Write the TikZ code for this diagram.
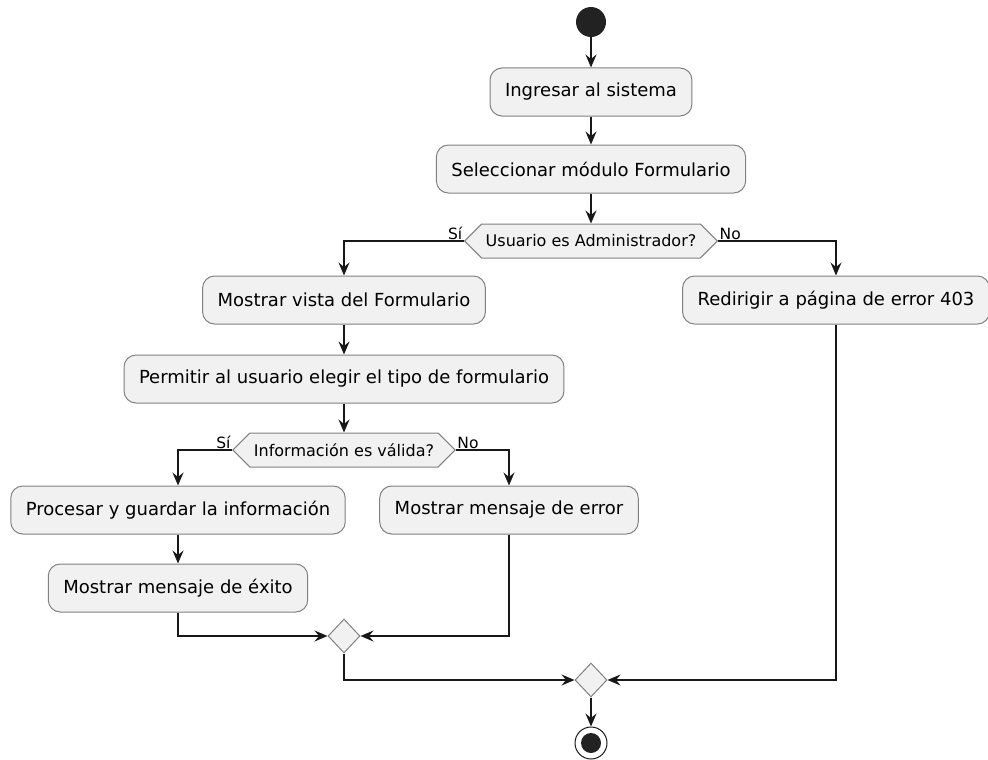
\documentclass[tikz,border=0pt]{standalone}
\usepackage{fontspec}
\setmainfont{DejaVu Sans}
\usetikzlibrary{shapes.geometric,shapes.symbols,arrows.meta}
\definecolor{boxfill}{HTML}{F1F1F1}
\definecolor{ink}{HTML}{181818}
\definecolor{dot}{HTML}{222222}
\tikzset{
  act/.style={draw=black!50, line width=1pt, fill=boxfill, rounded corners=12pt,
    inner xsep=15pt, minimum height=48pt, font=\fontsize{18}{20}\selectfont},
  dec/.style={draw=black!50, line width=1pt, fill=boxfill, signal, signal to=west and east,
    signal pointer angle=90, inner xsep=4pt, minimum height=34pt, font=\fontsize{16}{18}\selectfont},
  merge/.style={draw=black!50, line width=1pt, fill=boxfill, diamond, inner sep=0pt,
    minimum width=32pt, minimum height=34pt},
  arr/.style={draw=ink, line width=1.4pt, -{Stealth[length=13pt,width=11pt,inset=4.5pt]}},
  lbl/.style={font=\fontsize{15.5}{17}\selectfont, inner sep=1.5pt}
}
\begin{document}
\begin{tikzpicture}[x=1pt,y=-1pt]
\useasboundingbox (0,0) rectangle (988,760);
\node[circle, fill=dot, minimum size=30pt, inner sep=0pt] (start) at (591,22) {};
\node[act] (ing) at (591,92) {Ingresar al sistema};
\node[act] (sel) at (591,169) {Seleccionar módulo Formulario};
\node[dec] (d1) at (591,241) {Usuario es Administrador?};
\node[act] (vista) at (344,300) {Mostrar vista del Formulario};
\node[act] (redir) at (836,300) {Redirigir a página de error 403};
\node[act] (perm) at (344,379) {Permitir al usuario elegir el tipo de formulario};
\node[dec] (d2) at (344,450) {Información es válida?};
\node[act] (proc) at (178,510) {Procesar y guardar la información};
\node[act] (err) at (509,510) {Mostrar mensaje de error};
\node[act] (exito) at (178,588) {Mostrar mensaje de éxito};
\node[merge] (m1) at (344,636) {};
\node[merge] (m2) at (591,680) {};
\node[circle, draw=ink, line width=1pt, fill=white, minimum size=32pt, inner sep=0pt] (end) at (591,743) {};
\node[circle, fill=dot, minimum size=20pt, inner sep=0pt] (endin) at (end.center) {};

\node[lbl, anchor=south east] (l1) at (d1.west) {Sí};
\node[lbl, anchor=south west] (l2) at (d1.east) {No};
\node[lbl, anchor=south east] (l3) at (d2.west) {Sí};
\node[lbl, anchor=south west] (l4) at (d2.east) {No};

\draw[arr] (start) -- (ing);
\draw[arr] (ing) -- (sel);
\draw[arr] (sel.south) -- (d1.north);
\draw[arr] (d1.west) -| (vista.north);
\draw[arr] (d1.east) -| (redir.north);
\draw[arr] (vista) -- (perm);
\draw[arr] (perm.south) -- (d2.north);
\draw[arr] (d2.west) -| (proc.north);
\draw[arr] (d2.east) -| (err.north);
\draw[arr] (proc) -- (exito);
\draw[arr] (exito.south) |- (m1.west);
\draw[arr] (err.south) |- (m1.east);
\draw[arr] (m1.south) |- (m2.west);
\draw[arr] (redir.south) |- (m2.east);
\draw[arr] (m2.south) -- (end.north);
\end{tikzpicture}
\end{document}
